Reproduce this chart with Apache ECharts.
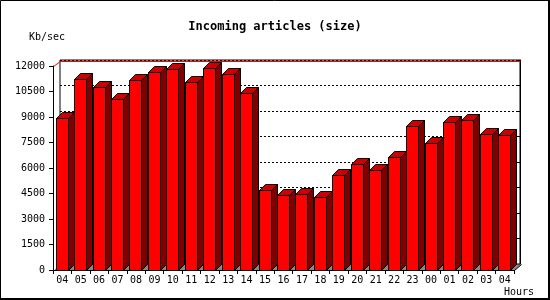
<!DOCTYPE html>
<html>
<head>
<meta charset="utf-8">
<script src="https://cdn.jsdelivr.net/npm/echarts@6/dist/echarts.min.js"></script>
<style>
html,body{margin:0;padding:0;background:#fff;}
#c{width:550px;height:300px;}
</style>
</head>
<body>
<div id="c"></div>
<script>
const hours = ['04','05','06','07','08','09','10','11','12','13','14','15','16','17','18','19','20','21','22','23','00','01','02','03','04'];
const kbPerSec = [8920,11250,10780,10040,11200,11670,11800,11040,11860,11510,10390,4710,4390,4450,4310,5570,6220,5860,6630,8450,7450,8690,8800,7980,7920];
const yMin = 0, yMax = 12000, yStep = 1500;
const titleText = 'Incoming articles (size)';
const yName = 'Kb/sec';
const xName = 'Hours';

const FONT = '"DejaVu Sans Mono", monospace';
const DX = 6, DY = 6;

const chart = echarts.init(document.getElementById('c'), null, {renderer: 'canvas'});

const barData = kbPerSec.map((v, i) => [i, v]);

function renderBar(params, api) {
  const i = api.value(0), v = api.value(1);
  const top = api.coord([i, v]);
  const base = api.coord([i, 0]);
  const cx = top[0];
  const x0 = Math.round(cx - 6.5) + 0.5;
  const w = 12;
  const yt = Math.round(top[1]) + 0.5;
  const yb = Math.round(base[1]) + 0.5;
  const st = {stroke: '#000', lineWidth: 1};
  return {
    type: 'group',
    children: [
      {type: 'polygon', shape: {points: [[x0 + w, yt], [x0 + w + DX, yt - DY], [x0 + w + DX, yb - DY], [x0 + w, yb]]},
       style: Object.assign({fill: '#800000'}, st)},
      {type: 'polygon', shape: {points: [[x0, yt], [x0 + w, yt], [x0 + w + DX, yt - DY], [x0 + DX, yt - DY]]},
       style: Object.assign({fill: '#cc0000'}, st)},
      {type: 'rect', shape: {x: x0, y: yt, width: w, height: yb - yt},
       style: Object.assign({fill: '#ff0000'}, st)}
    ]
  };
}

function renderFrame(params, api) {
  const band = api.size([1, 0])[0];
  const c0 = api.coord([0, yMin]);
  const cN = api.coord([hours.length - 1, yMin]);
  const cT = api.coord([0, yMax]);
  const xl = Math.round(c0[0] - band / 2) + 0.5;
  const xr = Math.round(cN[0] + band / 2) + 0.5;
  const y0 = Math.round(c0[1]) + 0.5;
  const yt = Math.round(cT[1]) + 0.5;
  const dxp = 7;
  return {
    type: 'group',
    children: [
      {type: 'polygon', shape: {points: [[xl, y0], [xr, y0], [xr + dxp, y0 - DY], [xl + dxp, y0 - DY]]},
       style: {fill: '#888888'}},
      {type: 'polyline', shape: {points: [[xr, y0], [xr + dxp, y0 - DY]]},
       style: {stroke: '#000', lineWidth: 1, fill: null}},
      {type: 'polyline', shape: {points: [[xl, yt], [xl + dxp, yt - 5], [xr + dxp - 1, yt - 5]]},
       style: {stroke: '#ff0000', lineWidth: 1, fill: null}}
    ]
  };
}

const option = {
  animation: false,
  backgroundColor: '#fff',
  title: [
    {text: titleText, left: 'center', top: 21, padding: 0,
     textStyle: {fontFamily: FONT, fontWeight: 'bold', fontSize: 12, color: '#000'}},
    {text: yName, left: 29, top: 32, padding: 0,
     textStyle: {fontFamily: FONT, fontWeight: 'normal', fontSize: 10, color: '#000'}},
    {text: xName, left: 504, top: 287, padding: 0,
     textStyle: {fontFamily: FONT, fontWeight: 'normal', fontSize: 10, color: '#000'}}
  ],
  grid: [
    {left: 53, right: 36, top: 66, bottom: 30, show: false},
    {left: 60, right: 30, top: 60, bottom: 36, show: true, borderColor: '#000', borderWidth: 1, backgroundColor: 'transparent', z: 0}
  ],
  xAxis: [
    {type: 'category', gridIndex: 0, data: hours, boundaryGap: true, z: 5,
     axisLine: {lineStyle: {color: '#000', width: 1}},
     axisTick: {show: true, length: 4, interval: 0, lineStyle: {color: '#000'}},
     axisLabel: {interval: 0, margin: 5, fontFamily: FONT, fontSize: 10, color: '#000'},
     splitLine: {show: false}},
    {type: 'category', gridIndex: 1, data: hours, boundaryGap: true, show: false}
  ],
  yAxis: [
    {type: 'value', gridIndex: 0, min: yMin, max: yMax, interval: yStep, z: 5,
     axisLine: {show: true, lineStyle: {color: '#000', width: 1}},
     axisTick: {show: true, length: 4, lineStyle: {color: '#000'}},
     axisLabel: {margin: 8, fontFamily: FONT, fontSize: 10, color: '#000', formatter: v => String(v)},
     splitLine: {show: false}},
    {type: 'value', gridIndex: 1, min: yMin, max: yMax, interval: yStep, position: 'right',
     axisLine: {show: true, lineStyle: {color: '#000', width: 1}},
     axisTick: {show: true, inside: true, length: 3, lineStyle: {color: '#000'}},
     axisLabel: {show: false},
     splitLine: {show: true, lineStyle: {color: '#000', type: [2, 2], width: 1}}}
  ],
  graphic: [
    {type: 'polyline', z: 100, shape: {points: [[0.5, 299], [0.5, 0.5], [549, 0.5]]}, style: {stroke: '#000', lineWidth: 1, fill: null}},
    {type: 'polyline', z: 100, shape: {points: [[0, 299], [549, 299], [549, 0]]}, style: {stroke: '#000', lineWidth: 2, fill: null}}
  ],
  series: [
    {type: 'custom', xAxisIndex: 0, yAxisIndex: 0, data: [[0, 0]], renderItem: renderFrame, z: 2, silent: true},
    {type: 'custom', xAxisIndex: 0, yAxisIndex: 0, data: barData, renderItem: renderBar, z: 3, clip: false}
  ]
};
chart.setOption(option);
</script>
</body>
</html>
